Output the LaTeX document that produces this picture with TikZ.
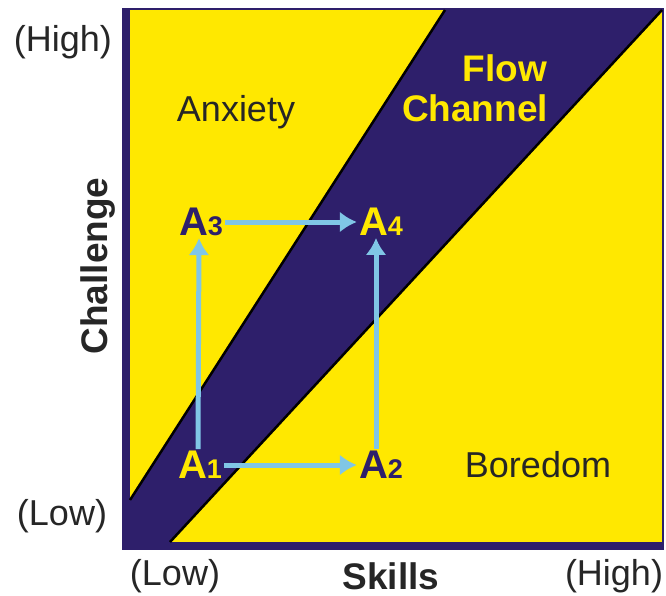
\documentclass[tikz,border=0pt]{standalone}
\usepackage{fontspec}
\setmainfont{Liberation Sans}
\usepackage{xcolor}
\usetikzlibrary{arrows.meta,positioning}
\definecolor{flowNavy}{HTML}{2E1F6B}
\definecolor{flowYellow}{HTML}{FFE800}
\definecolor{stepBlue}{HTML}{80C6E6}
\definecolor{textGray}{HTML}{262626}

\begin{document}
\begin{tikzpicture}[x=1pt,y=-1pt,>=Latex,
    lbl/.style={text=textGray,font=\fontsize{36}{40}\selectfont},
    hdr/.style={text=textGray,font=\fontsize{37}{40}\selectfont\bfseries},
    ax/.style={text=textGray,font=\fontsize{36}{40}\selectfont},
    state/.style={font=\fontsize{40}{40}\selectfont\bfseries,inner sep=2pt},
    stepArrow/.style={stepBlue,line width=5pt,
      -{Latex[length=17pt,width=21pt]}}]
    \useasboundingbox (0,0) rectangle (666,596);

    % frame and background
    \fill[flowNavy] (122,8) rectangle (664,550);
    \fill[flowYellow] (130,10) rectangle (662,542);

    % flow channel
    \fill[flowNavy] (130,500)--(445,10)--(662,10)--(170,542)--(130,542)--cycle;
    \draw[black,line width=2.5pt] (130,500)--(445,10);
    \draw[black,line width=2.5pt] (170,542)--(662,10);

    \node[lbl] (anx) at (236,112) {Anxiety};
    \node[lbl] (bor) at (538,465) {Boredom};
    \node[hdr,text=flowYellow,align=center] (flow) at (475,88)
      {\hspace*{60pt}Flow\\Channel};

    % states
    \node[state,text=flowYellow] (a1) at (200,465)
      {A{\fontsize{27}{27}\selectfont 1}};
    \node[state,text=flowNavy] (a2) at (381,465)
      {A{\fontsize{27}{27}\selectfont 2}};
    \node[state,text=flowNavy] (a3) at (201,222)
      {A{\fontsize{27}{27}\selectfont 3}};
    \node[state,text=flowYellow] (a4) at (381,222)
      {A{\fontsize{27}{27}\selectfont 4}};

    \draw[stepArrow] (a1.east)--(a2.west);
    \draw[stepArrow] (a3.east)--(a4.west);
    \draw[stepArrow] ([xshift=-2pt]a1.north)--([xshift=-2pt]a3.south);
    \draw[stepArrow] ([xshift=-5pt]a2.north)--([xshift=-5pt]a4.south);

    % axes
    \node[hdr,rotate=90] (chal) at (98,266) {Challenge};
    \node[hdr] (skl) at (391,576) {Skills};
    \node[ax] (hiY) at (63,42) {(High)};
    \node[ax] (loY) at (62,516) {(Low)};
    \node[ax] (loX) at (175,576) {(Low)};
    \node[ax] (hiX) at (614,576) {(High)};
  \end{tikzpicture}
\end{document}
